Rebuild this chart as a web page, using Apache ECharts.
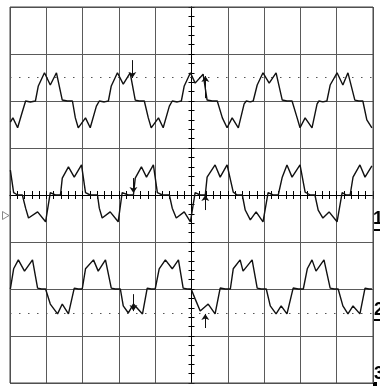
<!DOCTYPE html>
<html><head><meta charset="utf-8">
<script src="https://cdn.jsdelivr.net/npm/echarts@6/dist/echarts.min.js"></script>
<style>html,body{margin:0;padding:0;background:#fff}#c{width:380px;height:386px}</style>
</head><body><div id="c"></div><script>
// x in screen divisions (0..10), y in vertical divisions (-4..4)
const traceA = [[0.01,1.55],[0.08,1.64],[0.21,1.43],[0.34,1.77],[0.43,2.0],[0.56,1.98],[0.70,2.0],[0.78,2.32],[0.95,2.6],[1.11,2.34],[1.28,2.6],[1.44,2.02],[1.58,2.0],[1.72,2.0],[1.80,1.64],[1.88,1.43],[2.08,1.64],[2.21,1.43],[2.38,1.89],[2.46,2.0],[2.60,1.98],[2.71,2.0],[2.79,2.32],[2.96,2.6],[3.12,2.36],[3.31,2.6],[3.45,2.02],[3.56,2.0],[3.70,2.0],[3.81,1.64],[3.89,1.43],[4.09,1.64],[4.22,1.43],[4.39,1.89],[4.47,2.0],[4.61,1.98],[4.72,2.0],[4.80,2.32],[4.97,2.6],[5.10,2.38],[5.32,2.57],[5.43,2.02],[5.57,2.0],[5.71,2.0],[5.85,1.64],[5.98,1.43],[6.12,1.64],[6.29,1.43],[6.45,1.94],[6.51,2.0],[6.62,1.98],[6.70,2.0],[6.81,2.34],[6.97,2.6],[7.14,2.38],[7.33,2.6],[7.50,2.02],[7.63,2.0],[7.77,2.0],[7.91,1.64],[7.99,1.43],[8.13,1.64],[8.32,1.43],[8.46,1.94],[8.51,2.0],[8.62,1.98],[8.73,2.0],[8.82,2.34],[9.01,2.6],[9.17,2.34],[9.31,2.6],[9.50,2.02],[9.61,2.0],[9.72,2.0],[9.83,1.6],[9.97,1.43]];
const traceB = [[0.01,0.53],[0.10,0.05],[0.21,0],[0.34,0],[0.43,-0.28],[0.51,-0.49],[0.76,-0.36],[0.98,-0.57],[1.11,0.05],[1.25,0],[1.39,0],[1.44,0.36],[1.61,0.60],[1.77,0.38],[1.97,0.64],[2.08,0.05],[2.21,0],[2.41,0],[2.46,-0.28],[2.54,-0.49],[2.76,-0.36],[2.98,-0.57],[3.09,0.05],[3.26,0],[3.40,0],[3.45,0.36],[3.62,0.60],[3.76,0.38],[3.95,0.64],[4.06,0.05],[4.20,0],[4.39,0],[4.47,-0.28],[4.58,-0.49],[4.80,-0.36],[4.97,-0.57],[5.10,0.05],[5.24,0],[5.38,0],[5.43,0.38],[5.65,0.64],[5.79,0.38],[5.98,0.64],[6.15,0.06],[6.26,0],[6.40,0],[6.48,-0.32],[6.62,-0.53],[6.78,-0.36],[6.97,-0.57],[7.11,0.05],[7.25,0],[7.39,0],[7.50,0.38],[7.63,0.64],[7.77,0.38],[7.99,0.64],[8.13,0.06],[8.27,0],[8.40,0],[8.49,-0.32],[8.62,-0.49],[8.79,-0.36],[9.01,-0.57],[9.15,0.05],[9.26,0],[9.37,0],[9.45,0.38],[9.64,0.64],[9.78,0.38],[9.97,0.62]];
const traceC = [[0.01,-2.0],[0.10,-1.57],[0.23,-1.38],[0.40,-1.62],[0.62,-1.38],[0.76,-1.98],[0.87,-2.0],[0.98,-2.0],[1.11,-2.32],[1.31,-2.53],[1.44,-2.32],[1.61,-2.53],[1.77,-1.98],[1.88,-2.0],[1.99,-2.0],[2.08,-1.57],[2.30,-1.38],[2.43,-1.62],[2.63,-1.38],[2.79,-1.98],[2.90,-2.0],[3.04,-2.0],[3.12,-2.36],[3.26,-2.51],[3.40,-2.32],[3.65,-2.53],[3.78,-1.98],[3.89,-2.0],[4.00,-2.0],[4.11,-1.57],[4.28,-1.38],[4.47,-1.57],[4.64,-1.38],[4.77,-1.98],[4.88,-2.0],[4.99,-2.0],[5.10,-2.21],[5.24,-2.47],[5.46,-2.32],[5.65,-2.53],[5.79,-1.98],[5.93,-2.0],[6.07,-2.0],[6.15,-1.57],[6.34,-1.38],[6.42,-1.62],[6.67,-1.38],[6.81,-1.98],[6.92,-2.0],[7.06,-2.0],[7.17,-2.36],[7.33,-2.53],[7.47,-2.36],[7.63,-2.53],[7.80,-1.98],[7.94,-2.0],[8.08,-2.0],[8.19,-1.57],[8.32,-1.38],[8.43,-1.62],[8.65,-1.38],[8.82,-1.98],[8.93,-2.0],[9.04,-2.0],[9.17,-2.36],[9.31,-2.53],[9.45,-2.36],[9.64,-2.53],[9.78,-1.98],[9.89,-2.0],[9.97,-2.0]];
const cursorLevels = [2.51, -2.51];
// [x, yFrom, yTo] arrowhead at yTo
const arrows = [[3.37,2.87,2.49],[5.38,2.06,2.53],[3.40,0.36,0.04],[5.38,-0.32,0.0],[3.40,-2.11,-2.47],[5.38,-2.83,-2.53]];
const channelLabels = ['1','2','3'];

const chart = echarts.init(document.getElementById('c'), null, {renderer:'canvas'});
const GRID = '#5a5a5a';
const centerX = (extra) => Object.assign({
  type:'value', min:0, max:10, interval:0.2,
  axisLine:{show:true, onZero:true, onZeroAxisIndex:0, lineStyle:{color:'#000', width:1}},
  axisTick:{show:true, inside:true, length:4, lineStyle:{color:'#000', width:1}},
  axisLabel:{show:false}, splitLine:{show:false}
}, extra);
const centerY = (extra) => Object.assign({
  type:'value', min:-4, max:4, interval:0.2, offset:-181.5,
  axisLine:{show:true, onZero:false, lineStyle:{color:'#000', width:1}},
  axisTick:{show:true, inside:true, length:3, lineStyle:{color:'#000', width:1}},
  axisLabel:{show:false}, splitLine:{show:false}
}, extra);
const lineSeries = (data, extra) => Object.assign({
  type:'line', data:data, xAxisIndex:0, yAxisIndex:0, showSymbol:false, symbol:'none',
  lineStyle:{color:'#111', width:1.4}, silent:true, z:5
}, extra);

chart.setOption({
  animation:false,
  grid:{left:10, right:7, top:7, bottom:3, show:false},
  xAxis:[
    {type:'value', position:'bottom', min:0, max:10, interval:1,
     axisLine:{show:false, onZero:false}, axisTick:{show:false}, axisLabel:{show:false},
     splitLine:{show:true, lineStyle:{color:GRID, width:1}}},
    centerX({position:'bottom'}),
    centerX({position:'top'})
  ],
  yAxis:[
    {type:'value', position:'left', min:-4, max:4, interval:1,
     axisLine:{show:false, onZero:false}, axisTick:{show:false}, axisLabel:{show:false},
     splitLine:{show:true, lineStyle:{color:GRID, width:1}}},
    centerY({position:'left'}),
    centerY({position:'right'})
  ],
  series:[
    lineSeries(traceA, {
      markLine:{silent:true, symbol:'none', label:{show:false}, animation:false,
        lineStyle:{color:'#555', width:1, type:[1.5,7.5]},
        data: cursorLevels.map(v => ({yAxis:v}))}
    }),
    lineSeries(traceB, {
      markLine:{silent:true, symbol:['none','arrow'], symbolSize:6, label:{show:false}, animation:false,
        lineStyle:{color:'#111', width:1, type:'solid'},
        data: arrows.map(a => [{coord:[a[0],a[1]]},{coord:[a[0],a[2]]}])}
    }),
    lineSeries(traceC)
  ],
  graphic:[
    {type:'rect', shape:{x:10, y:7, width:363, height:376}, style:{fill:'none', stroke:'#444', lineWidth:1}, silent:true, z:1},
    {type:'polygon', shape:{points:[[2.5,211.5],[2.5,219.5],[9,215.5]]}, style:{fill:'#fff', stroke:'#888', lineWidth:1}, silent:true},
    {type:'text', left:373, top:210, style:{text:channelLabels[0], font:'bold 18px "Liberation Sans", Arial', fill:'#000'}, silent:true},
    {type:'rect', shape:{x:373, y:229, width:7, height:2}, style:{fill:'#000'}, silent:true},
    {type:'text', left:374, top:301, style:{text:channelLabels[1], font:'bold 18px "Liberation Sans", Arial', fill:'#000'}, silent:true},
    {type:'rect', shape:{x:373, y:319, width:7, height:2}, style:{fill:'#000'}, silent:true},
    {type:'text', left:374, top:365, style:{text:channelLabels[2], font:'bold 18px "Liberation Sans", Arial', fill:'#000'}, silent:true},
    {type:'rect', shape:{x:373, y:382, width:4, height:4}, style:{fill:'#000'}, silent:true}
  ]
});
</script></body></html>
